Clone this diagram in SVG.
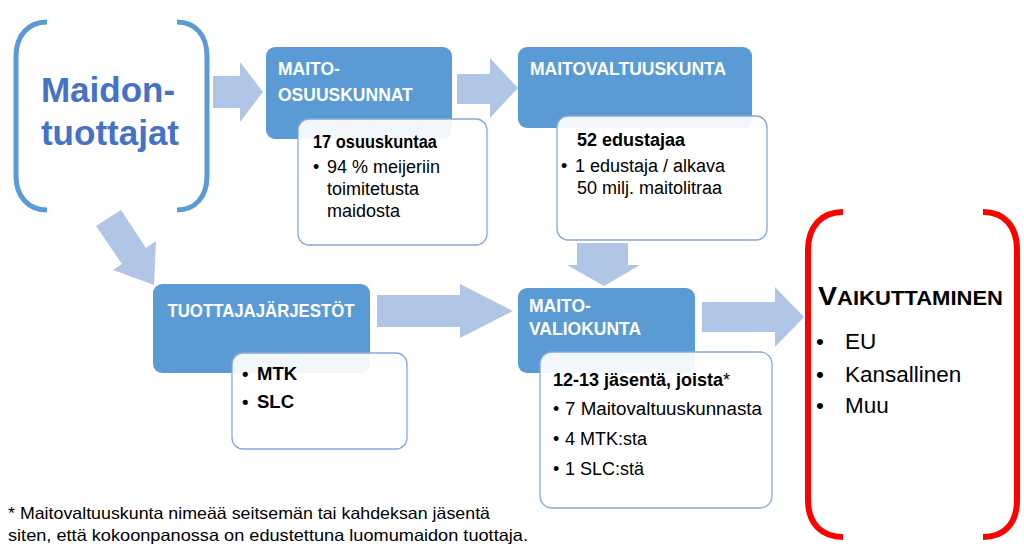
<svg xmlns="http://www.w3.org/2000/svg" width="1024" height="555" viewBox="0 0 1024 555">
<style>
.arrow{fill:#b1c6e7}
.box{fill:#5b9bd5}
.inner{fill:#ffffff;fill-opacity:0.92;stroke:#86a9d8;stroke-width:1.3}
.hd{font-family:"Liberation Sans",Arial,sans-serif;font-weight:bold;font-size:17.5px;fill:#ffffff}
.tx{font-family:"Liberation Sans",Arial,sans-serif;font-size:18px;fill:#000000}
.b{font-weight:bold}
.big{font-size:22.5px}
.mid{font-size:18.5px}
.fn{font-size:16.5px}
.bl{fill:none;stroke:#5b9bd5;stroke-width:5}
.rd{fill:none;stroke:#ff0000;stroke-width:6}
</style>
<rect width="1024" height="555" fill="#ffffff"/>
<g id="connectors">
<polygon class="arrow" points="213,76 240,76 240,62 263,92 240,122 240,108 213,108"/>
<polygon class="arrow" points="457,74 490,74 490,58 518,88 490,118 490,104 457,104"/>
<polygon class="arrow" points="96,226 121,210 146,248 156,241 154,285 113,270 122,264"/>
<polygon class="arrow" points="577,243 628,243 628,265 640,265 604,286 567,265 577,265"/>
<polygon class="arrow" points="377,295 460,295 460,284 513,311 460,338 460,327 377,327"/>
<polygon class="arrow" points="702,302 775,302 775,287 804,317 775,347 775,332 702,332"/>
</g>
<g id="maidontuottajat">
<path class="bl" d="M47,22 C28,22 16,36 16,56 L16,176 C16,196 28,210 47,210"/>
<path class="bl" d="M177,22 C196,22 207,36 207,56 L207,176 C207,196 196,210 177,210"/>
<text x="108" y="102" text-anchor="middle" font-family="Liberation Sans,Arial,sans-serif" font-weight="bold" font-size="35" fill="#4472c4">Maidon-</text>
<text x="110" y="145" text-anchor="middle" font-family="Liberation Sans,Arial,sans-serif" font-weight="bold" font-size="35" fill="#4472c4">tuottajat</text>
</g>
<g id="maito-osuuskunnat">
<rect class="box" x="266" y="47" width="186" height="92" rx="9"/>
<text class="hd" x="278" y="75">MAITO-</text>
<text class="hd" x="278" y="100.5">OSUUSKUNNAT</text>
<rect class="inner" x="298" y="119" width="189" height="126" rx="11"/>
<text class="tx b" x="313" y="148" textLength="124" lengthAdjust="spacingAndGlyphs">17 osuuskuntaa</text>
<text class="tx" x="313" y="173">•</text>
<text class="tx" x="327" y="173">94 % meijeriin</text>
<text class="tx" x="327" y="195">toimitetusta</text>
<text class="tx" x="327" y="217">maidosta</text>
</g>
<g id="maitovaltuuskunta">
<rect class="box" x="518" y="47" width="234" height="81" rx="9"/>
<text class="hd" x="530" y="75">MAITOVALTUUSKUNTA</text>
<rect class="inner" x="557" y="116" width="210" height="124" rx="11"/>
<text class="tx b" x="577" y="146">52 edustajaa</text>
<text class="tx" x="561" y="172">•</text>
<text class="tx" x="575" y="172">1 edustaja / alkava</text>
<text class="tx" x="577" y="194">50 milj. maitolitraa</text>
</g>
<g id="tuottajajarjestot">
<rect class="box" x="153" y="284" width="217" height="89" rx="9"/>
<text class="hd" x="261" y="317" text-anchor="middle" textLength="187" lengthAdjust="spacingAndGlyphs">TUOTTAJAJÄRJESTÖT</text>
<rect class="inner" x="232" y="353" width="175" height="96" rx="11"/>
<text class="tx b mid" x="242" y="380">•</text>
<text class="tx b mid" x="257" y="380">MTK</text>
<text class="tx b mid" x="242" y="408">•</text>
<text class="tx b mid" x="257" y="408">SLC</text>
</g>
<g id="maitovaliokunta">
<rect class="box" x="518" y="288" width="177" height="85" rx="9"/>
<text class="hd" x="529" y="312">MAITO-</text>
<text class="hd" x="529" y="335">VALIOKUNTA</text>
<rect class="inner" x="540" y="352" width="232" height="156" rx="12"/>
<text class="tx b" x="553" y="386">12-13 jäsentä, joista<tspan font-weight="normal">*</tspan></text>
<text class="tx" x="553" y="415">•</text>
<text class="tx" x="565" y="415" textLength="197" lengthAdjust="spacingAndGlyphs">7 Maitovaltuuskunnasta</text>
<text class="tx" x="553" y="445">•</text>
<text class="tx" x="565" y="445">4 MTK:sta</text>
<text class="tx" x="553" y="475">•</text>
<text class="tx" x="565" y="475">1 SLC:stä</text>
</g>
<g id="vaikuttaminen">
<path class="rd" d="M843,212 C822,212 808,226 808,250 L808,500 C808,524 822,537 843,537"/>
<path class="rd" d="M983,212 C1004,212 1017,226 1017,250 L1017,500 C1017,524 1004,537 983,537"/>
<text x="818" y="305" font-family="Liberation Sans,Arial,sans-serif" font-weight="bold" fill="#000000" textLength="185" lengthAdjust="spacingAndGlyphs"><tspan font-size="26">V</tspan><tspan font-size="20">AIKUTTAMINEN</tspan></text>
<text class="tx big" x="816" y="349">•</text>
<text class="tx big" x="845" y="349">EU</text>
<text class="tx big" x="816" y="382">•</text>
<text class="tx big" x="845" y="382">Kansallinen</text>
<text class="tx big" x="816" y="413">•</text>
<text class="tx big" x="845" y="413">Muu</text>
</g>
<g id="footnote">
<text class="tx fn" x="8" y="519" textLength="482" lengthAdjust="spacingAndGlyphs">* Maitovaltuuskunta nimeää seitsemän tai kahdeksan jäsentä</text>
<text class="tx fn" x="8" y="541" textLength="520" lengthAdjust="spacingAndGlyphs">siten, että kokoonpanossa on edustettuna luomumaidon tuottaja.</text>
</g>
</svg>
